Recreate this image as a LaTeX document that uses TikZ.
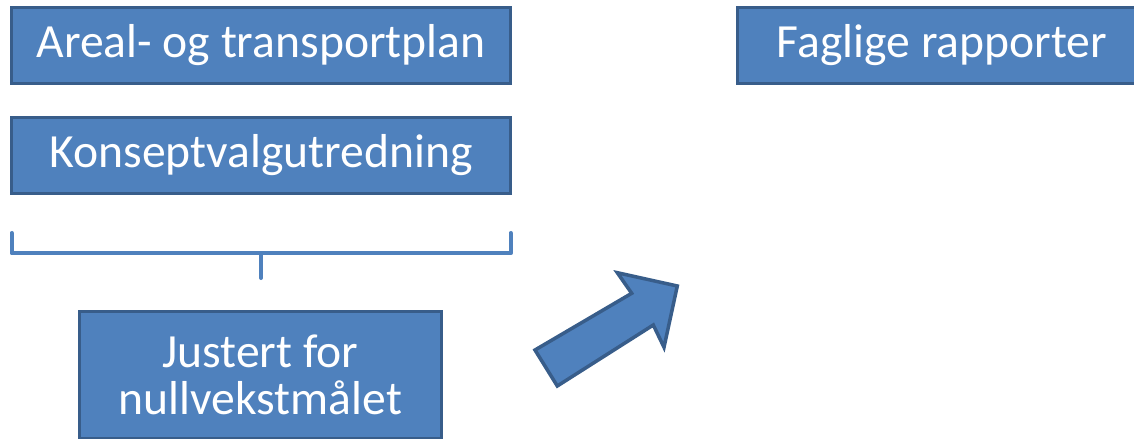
\documentclass[tikz,border=0pt]{standalone}
\usepackage{fontspec}
\setmainfont{Carlito}
\usepackage{tikz}
\definecolor{boksblaa}{HTML}{4F81BD}
\definecolor{kantblaa}{HTML}{385D8A}

\begin{document}
\begin{tikzpicture}[x=0.02cm,y=0.02cm]
\tikzstyle{every node}+=[inner sep=0pt]
\tikzstyle{boks}=[draw=kantblaa, fill=boksblaa, line width=2pt, text=white, font=\fontsize{27.1}{26.6}\selectfont, align=center]
\clip (0,0) rectangle (1134,-439);
\node [boks, minimum width=9.98cm, minimum height=1.52cm] (areal) at (261,-45.5) {Areal- og transportplan};
\node [boks, minimum width=9.98cm, minimum height=1.52cm] (kvu) at (261,-155.5) {Konseptvalgutredning};
\node [boks, minimum width=8.18cm, minimum height=1.52cm] (faglig) at (942,-45.5) {Faglige rapporter};
\node [boks, minimum width=7.24cm, minimum height=2.54cm] (justert) at (260.5,-375) {Justert for\\nullvekstmålet};
% klamme under de to boksene
\coordinate (kv) at (11.7,-233);
\coordinate (kh) at (510.7,-233);
\coordinate (stamme) at (261,-278);
\draw [boksblaa, line width=2.3pt, line cap=round, line join=round] (kv) -- (11.7,-253.3) -- (510.7,-253.3) -- (kh);
\draw [boksblaa, line width=2.3pt, line cap=round] (261,-253.3) -- (stamme);
% blokkpil
\draw [kantblaa, fill=boksblaa, line width=2pt] (535,-350) -- (557.3,-386) -- (653.3,-325) -- (664,-347.3) -- (677.3,-286) -- (617.3,-272.7) -- (631.7,-293.3) -- cycle;
\end{tikzpicture}
\end{document}
